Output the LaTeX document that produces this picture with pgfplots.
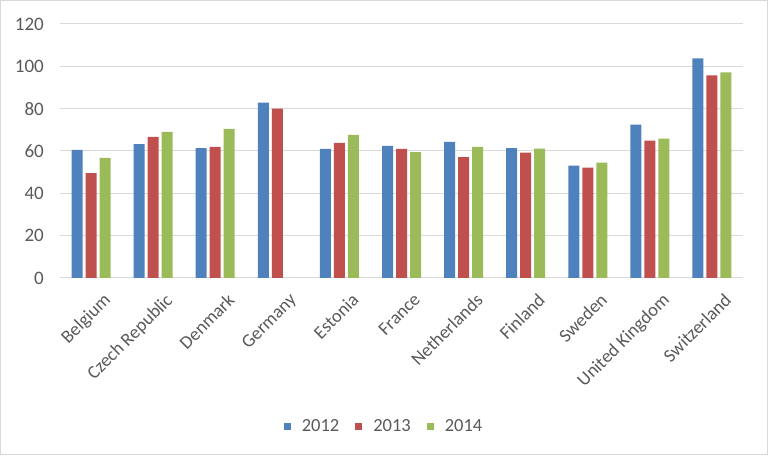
\documentclass[border=0pt]{standalone}
\usepackage{pgfplots}
\pgfplotsset{compat=1.18}
\usepackage{fontspec}
\setmainfont{Carlito}
\definecolor{c12}{HTML}{4F81BD}
\definecolor{c13}{HTML}{C0504D}
\definecolor{c14}{HTML}{9BBB59}
\definecolor{gridc}{HTML}{D9D9D9}
\definecolor{txt}{HTML}{595959}
\begin{document}
\begin{tikzpicture}
\draw[color=gridc, line width=1pt] (0.5pt,0.5pt) rectangle (767.5pt,454.5pt);
\begin{axis}[
  at={(60pt,177pt)}, anchor=south west,
  scale only axis, width=683pt, height=254pt,
  xmin=-0.5, xmax=10.5, ymin=0, ymax=120,
  ytick={0,20,...,120},
  xtick={0,...,10},
  xticklabels={Belgium,Czech Republic,Denmark,Germany,Estonia,France,Netherlands,Finland,Sweden,United Kingdom,Switzerland},
  axis line style={draw=none},
  major tick length=0pt,
  ymajorgrids, major grid style={gridc, line width=1pt},
  /pgf/number format/assume math mode=true,
  every y tick label/.append style={font=\fontsize{19}{19}\selectfont, text=txt, inner sep=0pt, anchor=east, xshift=-16pt},
  every x tick label/.append style={font=\fontsize{18.5}{18.5}\selectfont, text=txt, inner sep=0pt, rotate=45, anchor=north east, xshift=-2pt, yshift=-18pt},
  ybar=3pt, bar width=11pt,
  legend columns=3,
  legend style={at={(axis description cs:0.4744,-0.5827)}, anchor=center, draw=none, fill=none,
    font=\fontsize{18.5}{18.5}\selectfont, text=txt,
    /tikz/every odd column/.append style={column sep=9pt},
    /tikz/every even column/.append style={column sep=14pt}},
  legend image code/.code={\path[#1, draw=none] (0pt,-3.5pt) rectangle (7pt,3.5pt);},
]
\addplot[fill=c12, draw=none] coordinates {(0,60.5) (1,63.3) (2,61.4) (3,82.9) (4,61.0) (5,62.4) (6,64.3) (7,61.4) (8,53.1) (9,72.5) (10,103.8)};
\addplot[fill=c13, draw=none] coordinates {(0,49.5) (1,66.7) (2,61.9) (3,80.0) (4,63.8) (5,61.0) (6,57.1) (7,59.2) (8,52.1) (9,64.9) (10,95.7)};
\addplot[fill=c14, draw=none] coordinates {(0,56.7) (1,69.0) (2,70.5) (4,67.6) (5,59.5) (6,61.9) (7,61.1) (8,54.5) (9,65.9) (10,97.2)};
\legend{2012,2013,2014}
\end{axis}
\end{tikzpicture}
\end{document}
